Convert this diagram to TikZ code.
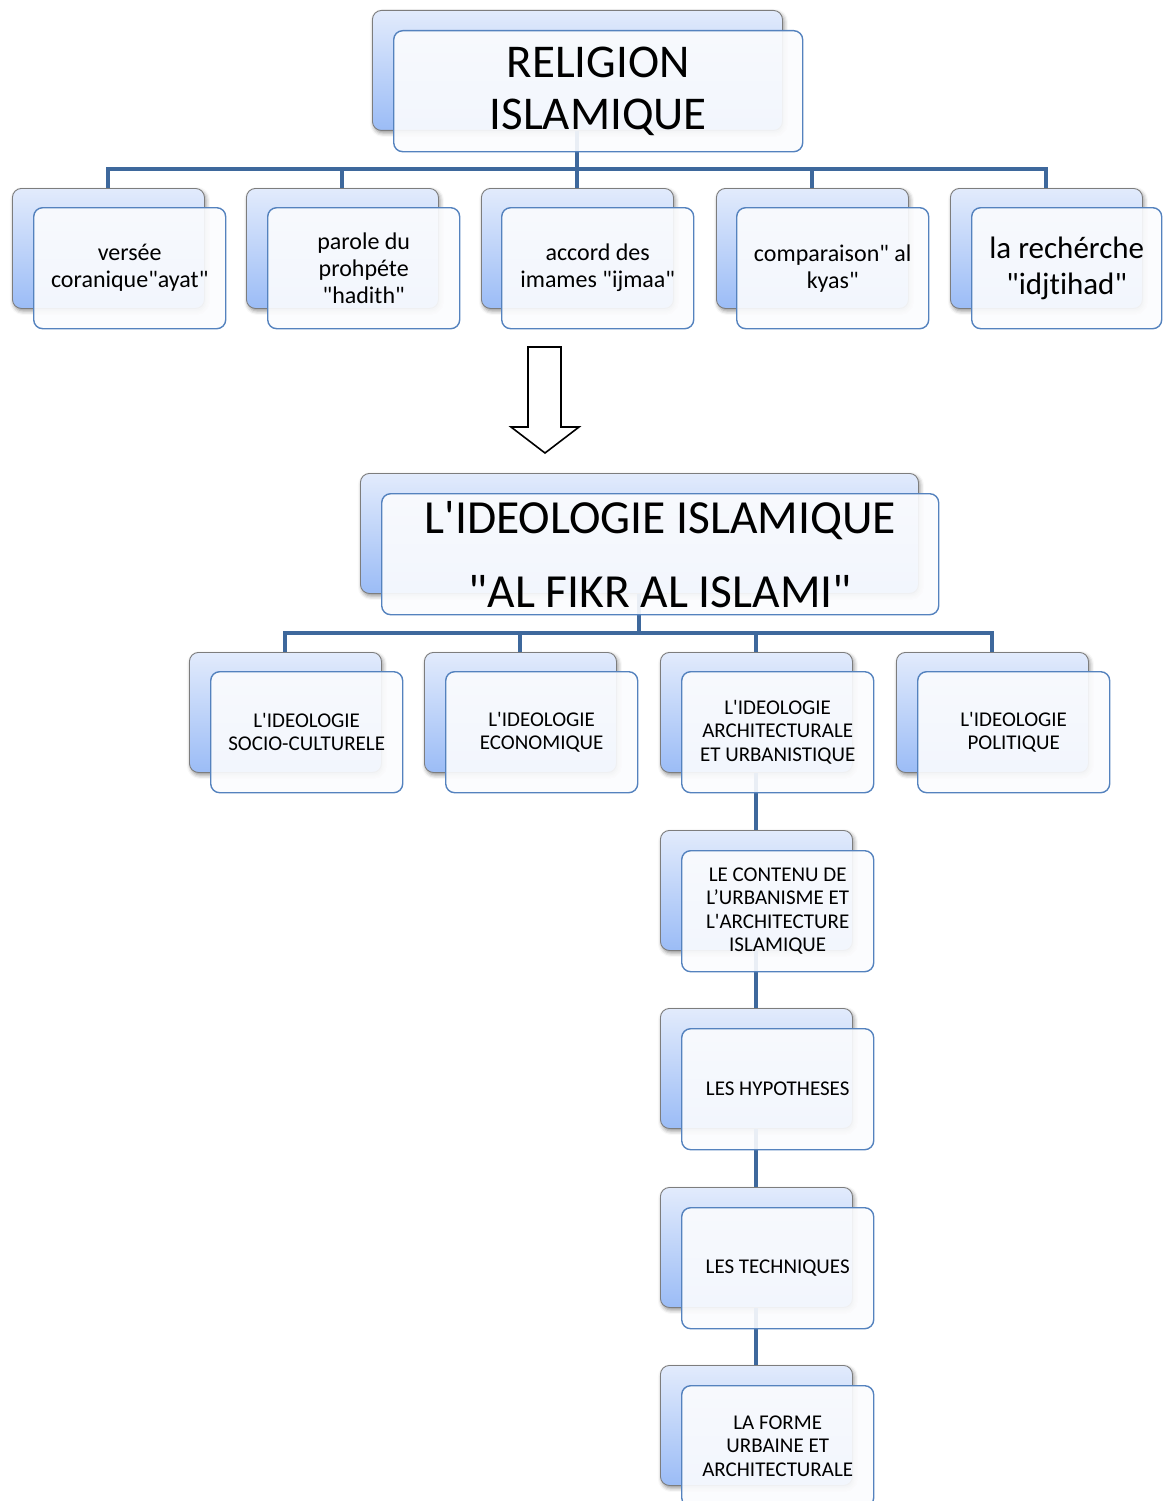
\documentclass[tikz,border=0pt]{standalone}
\usepackage{fontspec}
\setmainfont{Carlito}[Ligatures={TeXOff,CommonOff}]
\usetikzlibrary{shadows.blur}

\definecolor{linkblue}{RGB}{62,104,156}
\definecolor{frontedge}{RGB}{84,130,190}
\definecolor{frontfill}{RGB}{251,252,254}
\definecolor{backtop}{RGB}{226,235,252}
\definecolor{backbot}{RGB}{155,188,246}
\definecolor{backedge}{RGB}{125,125,125}

\newcommand\fsz[2]{\fontsize{#1}{#2}\selectfont}

\tikzset{
  backbox/.style={draw=backedge, line width=0.9pt, rounded corners=9pt,
    top color=backtop, bottom color=backbot, anchor=north west, inner sep=0pt,
    minimum width=192pt, minimum height=120pt,
    blur shadow={shadow xshift=1.5pt, shadow yshift=-2.5pt,
                 shadow blur radius=4pt, shadow opacity=45}},
  frontbox/.style={draw=frontedge, line width=1.4pt, rounded corners=9pt,
    fill=frontfill, fill opacity=0.91, text opacity=1, text=black,
    anchor=north west, inner sep=0pt, align=center,
    minimum width=192pt, minimum height=121pt},
  conn/.style={draw=linkblue, line width=4pt},
  lvlone/.style={font=\fsz{24}{27}},
  lvltwo/.style={font=\fsz{21}{23.5}},
  bigarrow/.style={draw=black, line width=1.6pt, fill=white, line join=miter}
}

\begin{document}
\begin{tikzpicture}[x=1pt,y=-1pt]
\useasboundingbox (0,0) rectangle (1162,1501);

% ---- rear gradient panels ----
\node[backbox, minimum width=410pt] (rB) at (372,10) {};
\node[backbox] (v1B) at (12,188) {};
\node[backbox] (v2B) at (246,188) {};
\node[backbox] (v3B) at (481,188) {};
\node[backbox] (v4B) at (716,188) {};
\node[backbox] (v5B) at (950,188) {};

\node[backbox, minimum width=558pt] (iB) at (360,473) {};
\node[backbox] (aB) at (189,652) {};
\node[backbox] (bB) at (424,652) {};
\node[backbox] (cB) at (660,652) {};
\node[backbox] (dB) at (896,652) {};
\node[backbox] (c2B) at (660,830) {};
\node[backbox] (c3B) at (660,1008) {};
\node[backbox] (c4B) at (660,1187) {};
\node[backbox] (c5B) at (660,1365) {};

% ---- connectors ----
\foreach \k in {v1B,v2B,v3B,v4B,v5B}
  \draw[conn] (rB.south) -- ++(0,38) -| (\k.north);
\foreach \k in {aB,bB,cB,dB}
  \draw[conn] (iB.south) -- ++(0,39) -| (\k.north);
\draw[conn] (cB.south) -- (c2B.north);
\draw[conn] (c2B.south) -- (c3B.north);
\draw[conn] (c3B.south) -- (c4B.north);
\draw[conn] (c4B.south) -- (c5B.north);

% ---- front panels with labels ----
\node[frontbox, minimum width=409pt, font=\fsz{47}{52}] (r) at (393,30)
  {RELIGION\\ISLAMIQUE};
\node[frontbox, lvlone] (v1) at (33,207) {versée\\coranique"ayat"};
\node[frontbox, lvlone] (v2) at (267,207) {parole du\\prohpéte\\"hadith"};
\node[frontbox, lvlone] (v3) at (501,207) {accord des\\imames "ijmaa"};
\node[frontbox, lvlone] (v4) at (736,207) {comparaison" al\\kyas"};
\node[frontbox, minimum width=190pt, font=\fsz{31}{36}] (v5) at (971,207)
  {la rechérche\\"idjtihad"};

\node[frontbox, minimum width=557pt, font=\fsz{47.5}{74}] (i) at (381,493)
  {L'IDEOLOGIE ISLAMIQUE\\"AL FIKR AL ISLAMI"};
\node[frontbox, lvltwo] (a) at (210,671) {L'IDEOLOGIE\\SOCIO-CULTURELE};
\node[frontbox, lvltwo] (b) at (445,671) {L'IDEOLOGIE\\ECONOMIQUE};
\node[frontbox, lvltwo] (c) at (681,671) {L'IDEOLOGIE\\ARCHITECTURALE\\ET URBANISTIQUE};
\node[frontbox, lvltwo] (d) at (917,671) {L'IDEOLOGIE\\POLITIQUE};
\node[frontbox, lvltwo] (c2) at (681,850)
  {LE CONTENU DE\\L’URBANISME ET\\L'ARCHITECTURE\\ISLAMIQUE};
\node[frontbox, lvltwo] (c3) at (681,1028) {LES HYPOTHESES};
\node[frontbox, lvltwo] (c4) at (681,1207) {LES TECHNIQUES};
\node[frontbox, lvltwo] (c5) at (681,1385) {LA FORME\\URBAINE ET\\ARCHITECTURALE};

% ---- hollow block arrow between the two trees ----
\coordinate (arrowtip) at (545,453);
\draw[bigarrow] (arrowtip) -- ++(-34,-26) -- ++(17,0) -- ++(0,-80)
  -- ++(33,0) -- ++(0,80) -- ++(18,0) -- cycle;
\end{tikzpicture}
\end{document}
